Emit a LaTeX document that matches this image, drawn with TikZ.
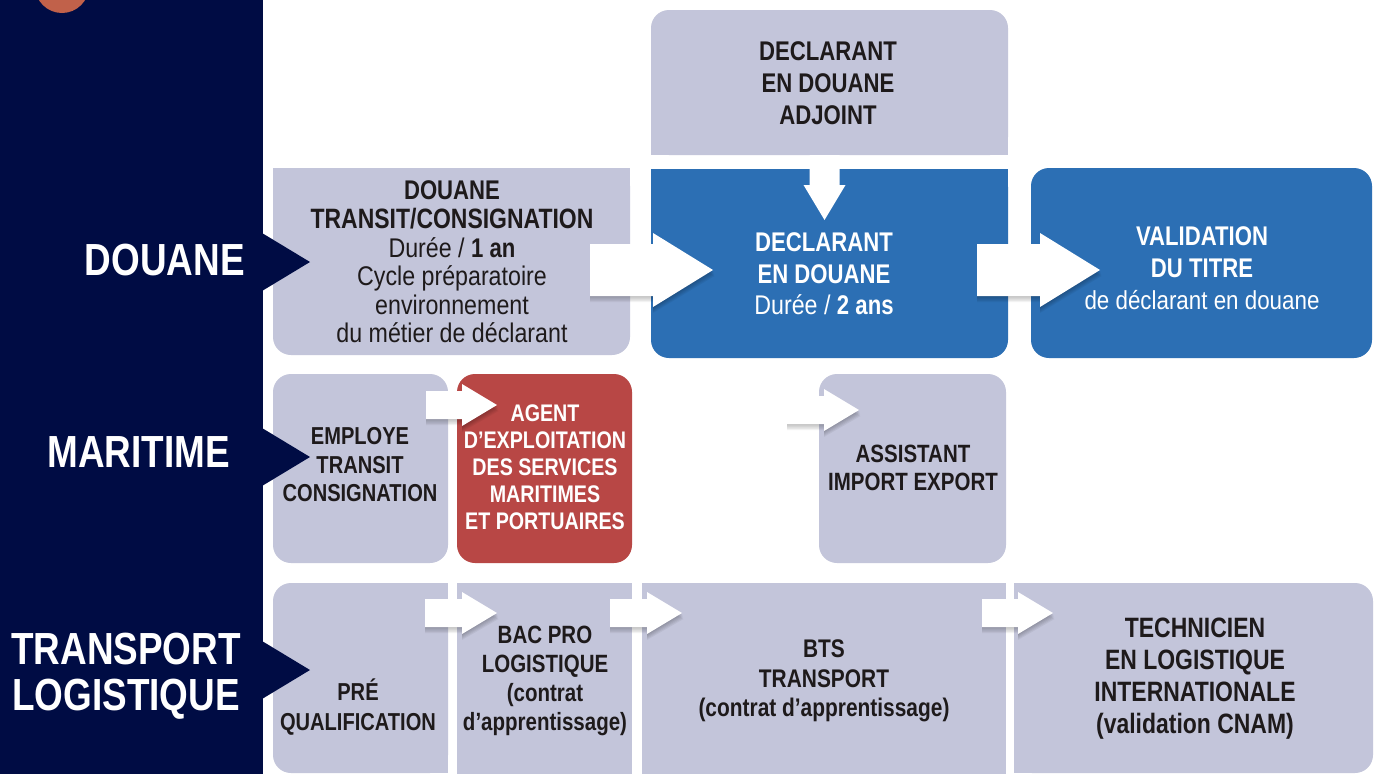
\documentclass[tikz,border=0pt]{standalone}
\usepackage{fontspec}
\setmainfont{Liberation Sans}[UprightFeatures={FakeStretch=0.86}, BoldFeatures={FakeStretch=0.82}]
\usetikzlibrary{calc}
\definecolor{navy}{HTML}{000C44}
\definecolor{lav}{HTML}{C3C5DA}
\definecolor{bleu}{HTML}{2C6FB4}
\definecolor{rouge}{HTML}{B84745}
\definecolor{orangec}{HTML}{C1614A}
\definecolor{txtdark}{HTML}{1E1A1B}
\newcommand\blockarr[5]{% start, tip, shaft half, head half, head length
  \foreach \k in {1,...,5}{
    \fill[black,opacity=0.05]
      ($(#1)+(0,-#3+\k*1.2)$) -- ($(#2)+(-#5,-#3+\k*1.2)$) -- ($(#2)+(-#5,-#4+\k*1.2)$) --
      ($(#2)+(\k*0.3,\k*1.2)$) -- ($(#2)+(-#5,#4+\k*1.2)$) -- ($(#2)+(-#5,#3+\k*1.2)$) --
      ($(#1)+(0,#3+\k*1.2)$) -- cycle;}
  \fill[white]
    ($(#1)+(0,-#3)$) -- ($(#2)+(-#5,-#3)$) -- ($(#2)+(-#5,-#4)$) -- (#2) --
    ($(#2)+(-#5,#4)$) -- ($(#2)+(-#5,#3)$) -- ($(#1)+(0,#3)$) -- cycle;}
\begin{document}
\begin{tikzpicture}[x=1pt,y=-1pt,
  boxbase/.style={inner sep=0pt, outer sep=0pt, anchor=north west, rounded corners=18pt},
  lbl/.style={text=txtdark, align=center, inner sep=0pt, font=\fontsize{24}{28.5}\selectfont\bfseries},
  wlbl/.style={lbl, text=white},
  side/.style={text=white, inner sep=0pt, align=center, font=\fontsize{45}{46}\selectfont\bfseries}]
\useasboundingbox (0,0) rectangle (1379,774);
\fill[white] (0,0) rectangle (1379,774);
% left panel
\fill[navy] (0,0) rectangle (263,774);
\fill[orangec] (62,-14) circle (27pt);
\node[side, anchor=east] (lDouane) at (245,260) {DOUANE};
\node[side, anchor=east] (lMar) at (230,452) {MARITIME};
\node[side] (lTrans) at (126,676) {TRANSPORT\\LOGISTIQUE};
% boxes
\node[boxbase, fill=lav, minimum width=357pt, minimum height=145pt] (adj) at (651,10) {};
\fill[lav] (adj.south west) rectangle ++(20,-20);
\fill[lav] (adj.south east) rectangle ++(-20,-20);
\node[boxbase, fill=bleu, minimum width=357pt, minimum height=189pt] (bd) at (651,169) {};
\fill[bleu] (bd.north west) rectangle ++(20,20);
\fill[bleu] (bd.north east) rectangle ++(-20,20);
\node[boxbase, fill=lav, minimum width=357pt, minimum height=187pt] (gd) at (273,168) {};
\fill[lav] (gd.north west) rectangle ++(20,20);
\fill[lav] (gd.north east) rectangle ++(-20,20);
\node[boxbase, fill=bleu, minimum width=341pt, minimum height=190pt] (val) at (1031,168) {};
\node[boxbase, fill=lav, minimum width=175pt, minimum height=189pt] (emp) at (273,374) {};
\node[boxbase, fill=rouge, minimum width=175pt, minimum height=189pt] (agent) at (457,374) {};
\node[boxbase, fill=lav, minimum width=187pt, minimum height=189pt] (asst) at (819,374) {};
\node[boxbase, fill=lav, minimum width=175pt, minimum height=190pt] (pre) at (273,583) {};
\fill[lav] (pre.north east) rectangle ++(-20,20);
\fill[lav] (pre.south east) rectangle ++(-20,-20);
\node[boxbase, fill=lav, minimum width=175pt, minimum height=191pt, sharp corners] (bac) at (457,583) {};
\node[boxbase, fill=lav, minimum width=364pt, minimum height=191pt, sharp corners] (bts) at (642,583) {};
\node[boxbase, fill=lav, minimum width=359pt, minimum height=190pt] (tech) at (1014,583) {};
\fill[lav] (tech.north west) rectangle ++(20,20);
\fill[lav] (tech.south west) rectangle ++(20,-20);
% notches of the left panel, over the boxes
\fill[navy] (262,233) -- (310,262) -- (262,291) -- cycle;
\fill[navy] (262,428) -- (310,457) -- (262,486) -- cycle;
\fill[navy] (262,641) -- (310,670) -- (262,699) -- cycle;
% arrows
\coordinate (a1s) at ($(gd.east)+(-40,8.5)$);
\coordinate (a1t) at ($(bd.west)+(62,6.5)$);
\blockarr{a1s}{a1t}{26}{37}{60}
\coordinate (a2s) at ($(bd.east)+(-31,6.5)$);
\coordinate (a2t) at ($(val.west)+(69,7)$);
\blockarr{a2s}{a2t}{26}{37}{60}
\coordinate (a4s) at ($(emp.north east)+(-22,31)$);
\coordinate (a4t) at ($(agent.north west)+(40,31)$);
\blockarr{a4s}{a4t}{14}{21}{35}
\coordinate (a5s) at ($(asst.north west)+(-32,36)$);
\coordinate (a5t) at ($(asst.north west)+(40,36)$);
\blockarr{a5s}{a5t}{14}{21}{35}
\coordinate (a6s) at ($(pre.north east)+(-23,30)$);
\coordinate (a6t) at ($(bac.north west)+(40,30)$);
\blockarr{a6s}{a6t}{14}{21}{35}
\coordinate (a7s) at ($(bac.north east)+(-22,30)$);
\coordinate (a7t) at ($(bts.north west)+(40,30)$);
\blockarr{a7s}{a7t}{14}{21}{35}
\coordinate (a8s) at ($(bts.north east)+(-24,30)$);
\coordinate (a8t) at ($(tech.north west)+(39,30)$);
\blockarr{a8s}{a8t}{14}{21}{35}
% down arrow
\coordinate (a3s) at ($(adj.south)+(-5,0)$);
\coordinate (a3t) at ($(bd.north)+(-5,51)$);
\fill[white] ($(a3s)+(-15,0)$) -- ($(a3t)+(-15,-35)$) -- ($(a3t)+(-21,-35)$) -- (a3t) --
  ($(a3t)+(21,-35)$) -- ($(a3t)+(15,-35)$) -- ($(a3s)+(15,0)$) -- cycle;
% texts
\node[lbl, font=\fontsize{27}{32}\selectfont\bfseries] (tAdj) at (828,83) {DECLARANT\\EN DOUANE\\ADJOINT};
\node[wlbl, font=\fontsize{27}{31.5}\selectfont\bfseries] (tBd) at (824,274) {DECLARANT\\EN DOUANE\\\mdseries Durée / \bfseries 2 ans};
\node[lbl, font=\fontsize{27}{28.6}\selectfont\bfseries] (tGd) at (452,262) {DOUANE\\\fontsize{28}{28.6}\selectfont TRANSIT/CONSIGNATION\\\mdseries Durée / \bfseries 1 an\\\mdseries Cycle préparatoire\\\mdseries environnement\\\mdseries du métier de déclarant};
\node[wlbl, font=\fontsize{27}{32}\selectfont\bfseries] (tVal) at (1202,268) {VALIDATION\\DU TITRE\\\mdseries\fontsize{26}{32}\selectfont de déclarant en douane};
\node[lbl, font=\fontsize{24.5}{28.5}\selectfont\bfseries] (tEmp) at (360,465) {EMPLOYE\\TRANSIT\\CONSIGNATION};
\node[wlbl, font=\fontsize{24}{27}\selectfont\bfseries] (tAgent) at (545,467) {AGENT\\D’EXPLOITATION\\DES SERVICES\\MARITIMES\\ET PORTUAIRES};
\node[lbl, font=\fontsize{25}{28.5}\selectfont\bfseries] (tAsst) at (913,468) {ASSISTANT\\IMPORT EXPORT};
\node[lbl, font=\fontsize{24.5}{30}\selectfont\bfseries] (tPre) at (358,707) {PRÉ\\QUALIFICATION};
\node[lbl, font=\fontsize{25}{29}\selectfont\bfseries] (tBac) at (545,681) {BAC PRO\\LOGISTIQUE\\(contrat\\d’apprentissage)};
\node[lbl, font=\fontsize{25.5}{29.5}\selectfont\bfseries] (tBts) at (824,681) {BTS\\TRANSPORT\\(contrat d’apprentissage)};
\node[lbl, font=\fontsize{28}{32}\selectfont\bfseries] (tTech) at (1195,679) {TECHNICIEN\\EN LOGISTIQUE\\INTERNATIONALE\\(validation CNAM)};
\end{tikzpicture}
\end{document}
